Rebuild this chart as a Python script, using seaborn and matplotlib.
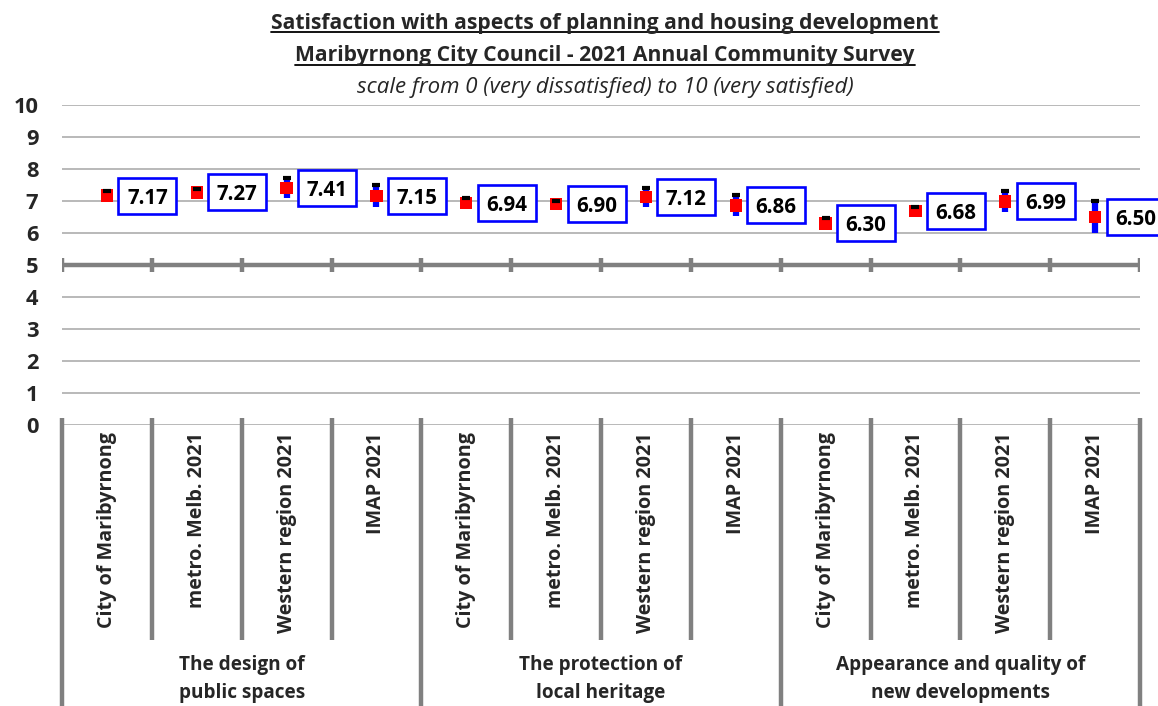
import matplotlib
matplotlib.use("Agg")
import matplotlib.pyplot as plt
from matplotlib.lines import Line2D
from matplotlib.patches import Rectangle
import numpy as np
import pandas as pd
import seaborn as sns

# ---- data -------------------------------------------------------------
groups = ["The design of\npublic spaces",
          "The protection of\nlocal heritage",
          "Appearance and quality of\nnew developments"]
areas = ["City of Maribyrnong", "metro. Melb. 2021",
         "Western region 2021", "IMAP 2021"]
means = [7.17, 7.27, 7.41, 7.15,
         6.94, 6.90, 7.12, 6.86,
         6.30, 6.68, 6.99, 6.50]
ci_low = [7.02, 7.15, 7.10, 6.80,
          6.80, 6.80, 6.82, 6.52,
          6.14, 6.56, 6.67, 6.00]
ci_high = [7.32, 7.39, 7.72, 7.50,
           7.08, 7.00, 7.42, 7.20,
           6.46, 6.80, 7.31, 7.00]
y_ticks = list(range(0, 11))

title_lines = ["Satisfaction with aspects of planning and housing development",
               "Maribyrnong City Council - 2021 Annual Community Survey"]
subtitle = "scale from 0 (very dissatisfied) to 10 (very satisfied)"

# ---- style ------------------------------------------------------------
sns.set_theme(style="white")
FONT = ["Open Sans", "DejaVu Sans"]
plt.rcParams["font.family"] = FONT

W, H = 1158, 706
fig = plt.figure(figsize=(W / 100, H / 100), dpi=100)
fig.patch.set_facecolor("white")
renderer = fig.canvas.get_renderer()


def fit_size(text, width_px, **kw):
    """Font size (pt) at which `text` is `width_px` pixels wide."""
    probe = fig.text(0, 0, text, fontsize=10, **kw)
    w = probe.get_window_extent(renderer).width
    probe.remove()
    return 10 * width_px / w


title_fs = fit_size(title_lines[0], 670, fontweight="bold")
sub_fs = fit_size(subtitle, 496, fontstyle="italic")
cat_fs = fit_size(areas[0], 196, fontweight="bold")
grp_fs = fit_size("Appearance and quality of", 250, fontweight="bold")
tick_fs = fit_size("10", 25, fontweight="bold")
val_fs = fit_size("7.17", 41, fontweight="bold")

AX_L, AX_R, AX_T, AX_B = 62, 1140, 105, 425
ax = fig.add_axes([AX_L / W, 1 - AX_B / H, (AX_R - AX_L) / W, (AX_B - AX_T) / H])
ax.set_facecolor("white")
for s in ax.spines.values():
    s.set_visible(False)

n = len(means)
df = pd.DataFrame({
    "pos": np.arange(n) + 0.5,
    "area": [areas[i % len(areas)] for i in range(n)],
    "group": [groups[i // len(areas)].replace("\n", " ") for i in range(n)],
    "mean": means,
    "low": ci_low,
    "high": ci_high,
})

ax.set_xlim(0, n)
ax.set_ylim(0, 10)
px_x = n / (AX_R - AX_L)      # data units per pixel, horizontal
px_y = 10 / (AX_B - AX_T)     # data units per pixel, vertical

# gridlines and the category axis crossing at 5
grid_c = "#A6A6A6"
axis_c = "#808080"
for y in y_ticks:
    if y != 5:
        ax.axhline(y, color=grid_c, lw=1.1, zorder=0)
ax.axhline(5, color=axis_c, lw=3.2, zorder=1)
ax.vlines(np.arange(n + 1), 5 - 7 * px_y, 5 + 7 * px_y, color=axis_c, lw=3.2, zorder=1)

# category separators below the plot
for i in range(n + 1):
    bottom = -(H + 5 - AX_B) * px_y if i % len(areas) == 0 else -(640 - AX_B) * px_y
    ax.vlines(i, bottom, 7 * px_y, color=axis_c, lw=3.2, clip_on=False, zorder=1)

# confidence ranges
ax.vlines(df["pos"], df["low"], df["high"], color="#0000FF", lw=4.5, zorder=3)
sns.scatterplot(data=df, x="pos", y="mean", marker="s", s=80, color="#FF0000",
                edgecolor="none", linewidth=0, ax=ax, zorder=4, legend=False)
ax.plot(df["pos"], df["high"], linestyle="none", marker="_", color="black",
        markersize=6, markeredgewidth=3, zorder=5)

# value labels in boxes
bw, bh, boff = 58 * px_x, 36 * px_y, 40.5 * px_x
for x, v in zip(df["pos"], df["mean"]):
    cxv = x + boff
    ax.add_patch(Rectangle((cxv - bw / 2, v - bh / 2), bw, bh, fc="white",
                           ec="#0000FF", lw=1.9, zorder=6, clip_on=False))
    ax.text(cxv, v, f"{v:.2f}", ha="center", va="center_baseline",
            fontsize=val_fs, fontweight="bold", color="black", zorder=7,
            clip_on=False)

# y axis
ax.set_yticks(y_ticks)
ax.set_yticklabels([str(t) for t in y_ticks], fontsize=tick_fs, fontweight="bold")
ax.tick_params(axis="y", length=0, pad=17)
ax.set_xticks([])
ax.set_xlabel("")
ax.set_ylabel("")

# category labels
for x, lab in zip(df["pos"], df["area"]):
    ax.text(x, -7 * px_y, lab, rotation=90, ha="center", va="top",
            fontsize=cat_fs, fontweight="bold", clip_on=False)
for g, name in enumerate(groups):
    ax.text(g * len(areas) + len(areas) / 2, -(679 - AX_B) * px_y, name,
            ha="center", va="center", fontsize=grp_fs, fontweight="bold",
            linespacing=1.55, clip_on=False)

# titles
cx = 605 / W
t1 = fig.text(cx, 1 - 23 / H, title_lines[0], ha="center", va="center",
              fontsize=title_fs, fontweight="bold")
t2 = fig.text(cx, 1 - 56 / H, title_lines[1], ha="center", va="center",
              fontsize=title_fs, fontweight="bold")
fig.text(cx, 1 - 87 / H, subtitle, ha="center", va="center",
         fontsize=sub_fs, fontstyle="italic")

fig.canvas.draw()
for t in (t1, t2):
    bb = t.get_window_extent(renderer)
    yline = (bb.y0 + 2) / H
    fig.add_artist(Line2D([bb.x0 / W, bb.x1 / W], [yline, yline],
                          color="black", lw=1.3))

fig.savefig("out.png", dpi=100, facecolor="white")
